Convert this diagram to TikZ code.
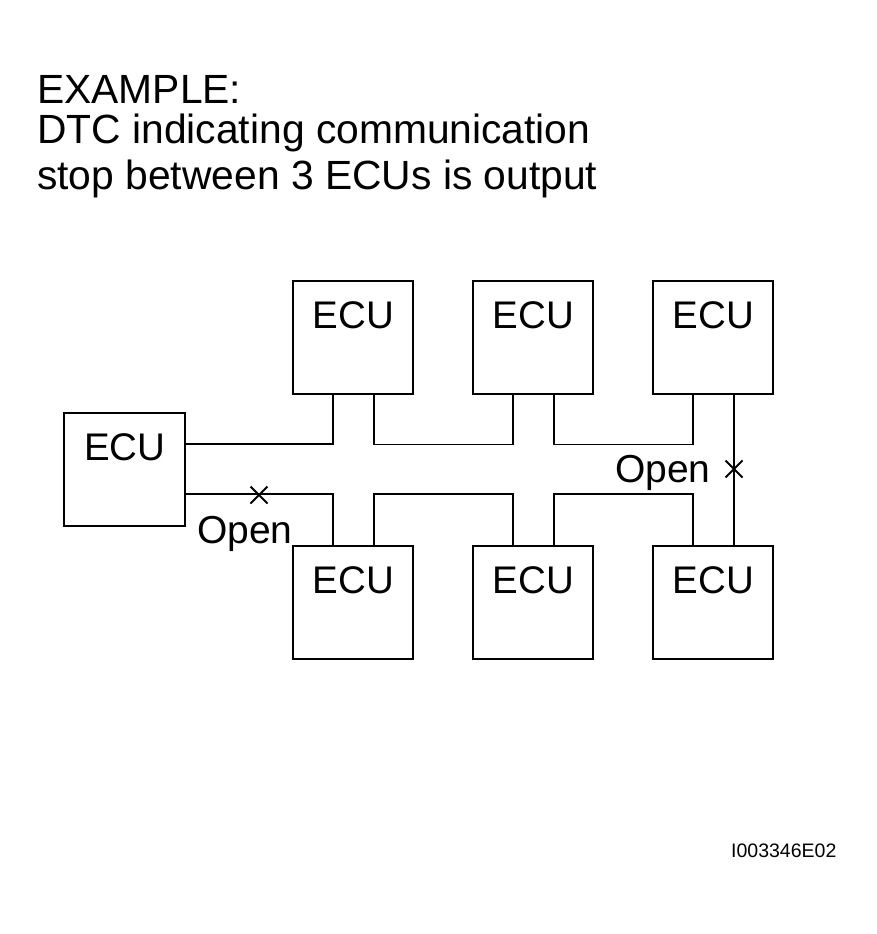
\documentclass[tikz,border=0pt]{standalone}
\usepackage{fontspec}
\setmainfont{Liberation Sans}
\usetikzlibrary{shapes.misc}
\tikzset{
  ecu/.style={draw, line width=2.4pt, anchor=north west, minimum width=120pt,
    inner xsep=0pt, inner ysep=0pt, text height=47pt, text depth=66pt,
    font=\fontsize{38.5}{40}\selectfont},
  bus/.style={line width=1.8pt},
  cut/.style={cross out, draw, line width=2pt, minimum size=15pt, inner sep=0pt},
  note/.style={anchor=base west, inner sep=0pt, font=\fontsize{40.8}{44}\selectfont},
}
\begin{document}
\begin{tikzpicture}[x=1pt,y=-1pt]
\useasboundingbox (0,0) rectangle (877,934);
% heading
\node[note] (head1) at (37,103) {EXAMPLE:};
\node[note] (head2) at (37,143) {DTC indicating communication};
\node[note] (head3) at (37,189) {stop between 3 ECUs is output};
% control units
\node[ecu, minimum width=121pt] (left) at (63,412) {ECU};
\node[ecu] (top1) at (292,280) {ECU};
\node[ecu] (top2) at (472,280) {ECU};
\node[ecu] (top3) at (652,280) {ECU};
\node[ecu] (bot1) at (292,545) {ECU};
\node[ecu] (bot2) at (472,545) {ECU};
\node[ecu] (bot3) at (652,545) {ECU};
% upper line
\draw[bus] ([yshift=-32pt]left.north east) -| ([xshift=41pt]top1.south west);
\draw[bus] ([xshift=82pt]top1.south west) -- ++(0,49) -| ([xshift=41pt]top2.south west);
\draw[bus] ([xshift=82pt]top2.south west) -- ++(0,49) -| ([xshift=41pt]top3.south west);
\draw[bus] ([xshift=82pt]top3.south west) -- ([xshift=82pt]bot3.north west);
% lower line
\draw[bus] ([yshift=-82pt]left.north east) -| ([xshift=41pt]bot1.north west);
\draw[bus] ([xshift=82pt]bot1.north west) -- ++(0,-51) -| ([xshift=41pt]bot2.north west);
\draw[bus] ([xshift=82pt]bot2.north west) -- ++(0,-51) -| ([xshift=41pt]bot3.north west);
% open circuits
\node[cut] (cut1) at (259,495) {};
\node[cut] (cut2) at (734,469) {};
\node[note, font=\fontsize{39}{42}\selectfont] (open1) at (197,543) {Open};
\node[note, font=\fontsize{39}{42}\selectfont] (open2) at (615,482) {Open};
\node[anchor=base west, inner sep=0pt, font=\fontsize{19.5}{22}\selectfont] (code) at (731,857) {I003346E02};
\end{tikzpicture}
\end{document}
